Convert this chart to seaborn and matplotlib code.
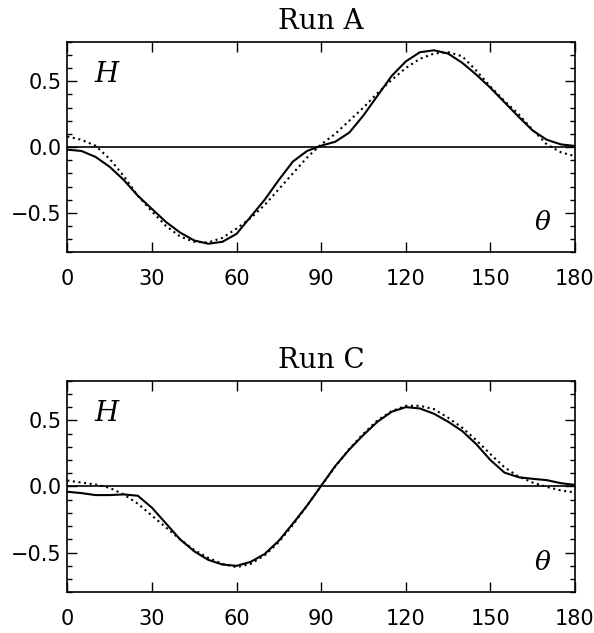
import matplotlib
matplotlib.use("Agg")
import matplotlib.pyplot as plt
import seaborn as sns
import pandas as pd
from matplotlib.ticker import FixedLocator, FixedFormatter, MultipleLocator

# ---------------- data ----------------
theta = list(range(0, 181, 5))

run_a_solid = [-0.02, -0.03, -0.075, -0.15, -0.25, -0.37, -0.47, -0.57, -0.65, -0.71,
               -0.735, -0.72, -0.66, -0.53, -0.40, -0.25, -0.11, -0.03, 0.01, 0.04,
               0.11, 0.24, 0.39, 0.54, 0.65, 0.72, 0.735, 0.71, 0.64, 0.55,
               0.45, 0.34, 0.23, 0.125, 0.055, 0.02, 0.008]
run_a_dotted = [0.08, 0.055, 0.01, -0.09, -0.22, -0.37, -0.49, -0.60, -0.68, -0.72,
                -0.725, -0.69, -0.62, -0.54, -0.44, -0.32, -0.20, -0.08, 0.02, 0.10,
                0.20, 0.30, 0.41, 0.51, 0.60, 0.67, 0.71, 0.72, 0.69, 0.58,
                0.46, 0.35, 0.25, 0.13, 0.02, -0.04, -0.07]

run_c_solid = [-0.04, -0.05, -0.065, -0.065, -0.06, -0.07, -0.16, -0.28, -0.40, -0.49,
               -0.555, -0.59, -0.60, -0.57, -0.51, -0.41, -0.28, -0.145, 0.005, 0.155,
               0.28, 0.39, 0.49, 0.565, 0.60, 0.59, 0.55, 0.49, 0.42, 0.32,
               0.20, 0.105, 0.07, 0.058, 0.048, 0.025, 0.012]
run_c_dotted = [0.045, 0.03, 0.015, -0.01, -0.06, -0.13, -0.22, -0.31, -0.40, -0.48,
                -0.54, -0.585, -0.61, -0.585, -0.52, -0.42, -0.29, -0.145, 0.005, 0.15,
                0.285, 0.40, 0.50, 0.57, 0.61, 0.61, 0.585, 0.52, 0.445, 0.35,
                0.245, 0.145, 0.075, 0.03, -0.003, -0.03, -0.045]

titles = ["Run A", "Run C"]
x_ticks = [0, 30, 60, 90, 120, 150, 180]
x_tick_labels = ["0", "30", "60", "90", "120", "150", "180"]
y_ticks = [-0.5, 0.0, 0.5]
y_tick_labels = ["\u22120.5", "0.0", "0.5"]

# ---------------- style ----------------
sns.set_theme(style="ticks")
plt.rcParams["font.family"] = ["DejaVu Sans"]
plt.rcParams["mathtext.fontset"] = "dejavuserif"
plt.rcParams["text.color"] = "black"
plt.rcParams["xtick.color"] = "black"
plt.rcParams["ytick.color"] = "black"
plt.rcParams["xtick.labelcolor"] = "black"
plt.rcParams["ytick.labelcolor"] = "black"
plt.rcParams["axes.titlecolor"] = "black"

fig = plt.figure(figsize=(5.94, 6.33), dpi=100)
fig.patch.set_facecolor("white")

positions = [[0.1133, 0.6014, 0.8547, 0.3327],
             [0.1133, 0.0643, 0.8547, 0.3343]]
series = [(run_a_solid, run_a_dotted), (run_c_solid, run_c_dotted)]

for pos, title, (solid, dotted) in zip(positions, titles, series):
    ax = fig.add_axes(pos)
    df = pd.DataFrame({"theta": theta, "solid": solid, "dotted": dotted})
    sns.lineplot(data=df, x="theta", y="solid", ax=ax, color="black",
                 linewidth=1.5, sort=True)
    sns.lineplot(data=df, x="theta", y="dotted", ax=ax, color="black",
                 linewidth=1.5, linestyle=(0, (1, 1.7)), sort=True)
    ax.axhline(0.0, color="black", linewidth=1.2)

    ax.set_xlim(0, 180)
    ax.set_ylim(-0.8, 0.8)
    ax.set_xlabel("")
    ax.set_ylabel("")
    ax.set_facecolor("white")

    ax.xaxis.set_major_locator(FixedLocator(x_ticks))
    ax.xaxis.set_major_formatter(FixedFormatter(x_tick_labels))
    ax.yaxis.set_major_locator(FixedLocator(y_ticks))
    ax.yaxis.set_major_formatter(FixedFormatter(y_tick_labels))
    ax.yaxis.set_minor_locator(MultipleLocator(0.1))

    ax.tick_params(axis="both", which="both", direction="in",
                   top=True, right=True, bottom=True, left=True,
                   color="black", labelcolor="black", width=1.0)
    ax.tick_params(axis="both", which="major", length=7)
    ax.tick_params(axis="y", which="minor", length=3.5)
    ax.tick_params(axis="x", which="major", labelsize=15, pad=12)
    ax.tick_params(axis="y", which="major", labelsize=15, pad=4)

    for sp in ax.spines.values():
        sp.set_visible(True)
        sp.set_color("black")
        sp.set_linewidth(1.2)

    ax.set_title(title, fontsize=20, family="DejaVu Serif", color="black", pad=9)
    ax.text(0.0796, 0.848, "$H$", transform=ax.transAxes, fontsize=20,
            ha="center", va="center", color="black")
    ax.text(0.937, 0.14, r"$\theta$", transform=ax.transAxes, fontsize=19,
            ha="center", va="center", color="black")

fig.savefig("out.png", dpi=100, facecolor="white")
